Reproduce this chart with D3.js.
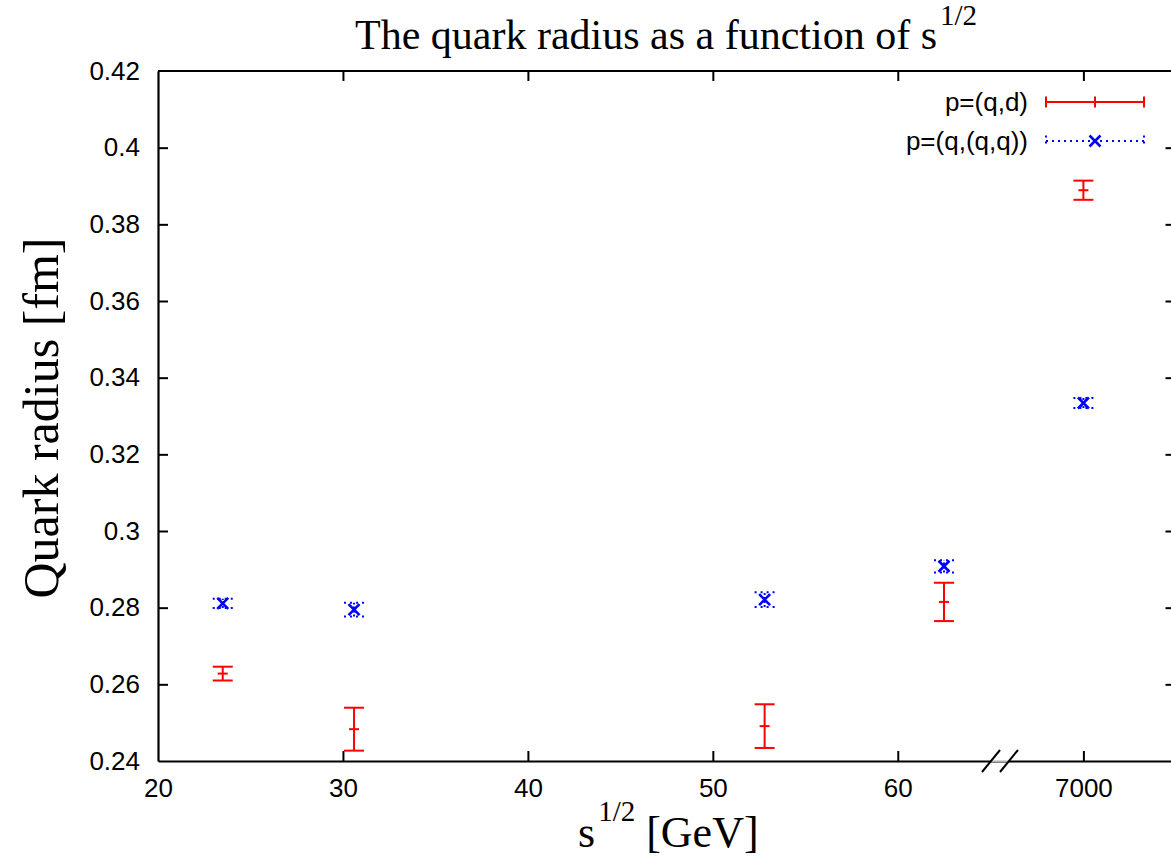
<!DOCTYPE html>
<html>
<head>
<meta charset="UTF-8">
<title>The quark radius as a function of s^1/2</title>
<script src="https://d3js.org/d3.v7.min.js"></script>
<style>
  body { margin: 0; background: #fff; }
  svg { display: block; }
  .tick text { font-family: "Liberation Sans", Arial, sans-serif; font-size: 26px; fill: #000; }
  .serif { font-family: "Liberation Serif", "Times New Roman", serif; fill: #000; }
</style>
</head>
<body>
<script>
// data
var energies  = [23.5, 30.6, 52.8, 62.5, 7000];
var radiusQD  = [0.2628, 0.2483, 0.2491, 0.2815, 0.3889];
var errQD     = [0.0018, 0.0056, 0.0057, 0.0050, 0.0025];
var radiusQQQ = [0.2811, 0.2795, 0.2821, 0.2908, 0.3334];
var errQQQ    = [0.0012, 0.0018, 0.0019, 0.0016, 0.0013];
var xTicks = [20, 30, 40, 50, 60, 7000];
var yTicks = [0.24, 0.26, 0.28, 0.30, 0.32, 0.34, 0.36, 0.38, 0.40, 0.42];
var seriesNames = ["p=(q,d)", "p=(q,(q,q))"];

var w = 1171, h = 865;
var plotLeft = 158, plotRight = 1175.5, plotTop = 71, plotBottom = 761;

var svg = d3.select("body").append("svg")
    .attr("width", w)
    .attr("height", h);

// broken x axis: 20..65.5 then a jump to 6995.5..7005
var x = d3.scaleLinear()
    .domain([20, 65.5, 6995.5, 7005])
    .range([plotLeft, 999.5, 1000.5, plotRight]);
var y = d3.scaleLinear()
    .domain([0.24, 0.42])
    .range([plotBottom, plotTop]);

// frame
svg.append("line").attr("x1", plotLeft).attr("x2", plotRight).attr("y1", plotTop).attr("y2", plotTop)
    .attr("stroke", "#000").attr("stroke-width", 2);
svg.append("line").attr("x1", plotRight).attr("x2", plotRight).attr("y1", plotTop).attr("y2", plotBottom)
    .attr("stroke", "#000").attr("stroke-width", 2);

var yAxis = svg.append("g")
    .attr("transform", "translate(" + plotLeft + ",0)")
    .call(d3.axisLeft(y).tickValues(yTicks).tickSizeInner(-10).tickSizeOuter(0).tickPadding(18)
        .tickFormat(function (d) { return String(+d.toFixed(2)); }));
var yMirror = svg.append("g")
    .attr("transform", "translate(" + plotRight + ",0)")
    .call(d3.axisRight(y).tickValues(yTicks).tickSizeInner(-10).tickSizeOuter(0).tickFormat(""));
var xAxis = svg.append("g")
    .attr("transform", "translate(0," + plotBottom + ")")
    .call(d3.axisBottom(x).tickValues(xTicks).tickSizeInner(-10).tickSizeOuter(0).tickPadding(18)
        .tickFormat(d3.format("d")));
var xMirror = svg.append("g")
    .attr("transform", "translate(0," + plotTop + ")")
    .call(d3.axisTop(x).tickValues(xTicks).tickSizeInner(-10).tickSizeOuter(0).tickFormat(""));

svg.selectAll(".domain").attr("stroke", "#000").attr("stroke-width", 2.2);
svg.selectAll(".tick line").attr("stroke", "#000").attr("stroke-width", 2);
yMirror.select(".domain").remove();
xMirror.select(".domain").remove();
// ticks at the plot corners are not drawn in the reference
yMirror.selectAll(".tick").filter(function (d) { return d === 0.24 || d === 0.42; }).remove();
yAxis.selectAll(".tick line").filter(function (d) { return d === 0.24 || d === 0.42; }).remove();
xAxis.selectAll(".tick line").filter(function (d) { return d === 20; }).remove();
xMirror.selectAll(".tick").filter(function (d) { return d === 20; }).remove();

// axis break marks
svg.append("line").attr("x1", 991).attr("x2", 1009).attr("y1", plotBottom).attr("y2", plotBottom)
    .attr("stroke", "#fff").attr("stroke-width", 1.4);
[991, 1009].forEach(function (cx) {
    svg.append("line")
        .attr("x1", cx - 9).attr("y1", plotBottom + 11)
        .attr("x2", cx + 9).attr("y2", plotBottom - 11)
        .attr("stroke", "#000").attr("stroke-width", 2);
});

var red = "#ff0000", blue = "#0000ff";
var capW = 10;

// p=(q,d) error bars
var qd = energies.map(function (e, i) { return { x: e, y: radiusQD[i], err: errQD[i] }; });
var gQD = svg.append("g").attr("stroke", red).attr("stroke-width", 2);
gQD.selectAll("line.bar").data(qd).enter().append("line").attr("class", "bar")
    .attr("x1", function (d) { return x(d.x); }).attr("x2", function (d) { return x(d.x); })
    .attr("y1", function (d) { return y(d.y - d.err); }).attr("y2", function (d) { return y(d.y + d.err); });
gQD.selectAll("line.capT").data(qd).enter().append("line").attr("class", "capT")
    .attr("x1", function (d) { return x(d.x) - capW; }).attr("x2", function (d) { return x(d.x) + capW; })
    .attr("y1", function (d) { return y(d.y + d.err); }).attr("y2", function (d) { return y(d.y + d.err); });
gQD.selectAll("line.capB").data(qd).enter().append("line").attr("class", "capB")
    .attr("x1", function (d) { return x(d.x) - capW; }).attr("x2", function (d) { return x(d.x) + capW; })
    .attr("y1", function (d) { return y(d.y - d.err); }).attr("y2", function (d) { return y(d.y - d.err); });
gQD.selectAll("line.pt").data(qd).enter().append("line").attr("class", "pt")
    .attr("x1", function (d) { return x(d.x) - 5; }).attr("x2", function (d) { return x(d.x) + 5; })
    .attr("y1", function (d) { return y(d.y); }).attr("y2", function (d) { return y(d.y); });

// p=(q,(q,q)) error bars, dotted
var qqq = energies.map(function (e, i) { return { x: e, y: radiusQQQ[i], err: errQQQ[i] }; });
var gQQQ = svg.append("g").attr("stroke", blue).attr("stroke-width", 2);
gQQQ.selectAll("line.bar").data(qqq).enter().append("line").attr("class", "bar")
    .attr("stroke-dasharray", "2,2")
    .attr("x1", function (d) { return x(d.x); }).attr("x2", function (d) { return x(d.x); })
    .attr("y1", function (d) { return y(d.y - d.err); }).attr("y2", function (d) { return y(d.y + d.err); });
gQQQ.selectAll("line.capT").data(qqq).enter().append("line").attr("class", "capT")
    .attr("stroke-dasharray", "2,4")
    .attr("x1", function (d) { return x(d.x) - capW; }).attr("x2", function (d) { return x(d.x) + capW; })
    .attr("y1", function (d) { return y(d.y + d.err); }).attr("y2", function (d) { return y(d.y + d.err); });
gQQQ.selectAll("line.capB").data(qqq).enter().append("line").attr("class", "capB")
    .attr("stroke-dasharray", "2,4")
    .attr("x1", function (d) { return x(d.x) - capW; }).attr("x2", function (d) { return x(d.x) + capW; })
    .attr("y1", function (d) { return y(d.y - d.err); }).attr("y2", function (d) { return y(d.y - d.err); });
gQQQ.selectAll("path.pt").data(qqq).enter().append("path").attr("class", "pt")
    .attr("stroke-width", 2.6)
    .attr("d", function (d) {
        var cx = x(d.x), cy = y(d.y), s = 5.5;
        return "M" + (cx - s) + "," + (cy - s) + "L" + (cx + s) + "," + (cy + s) +
               "M" + (cx - s) + "," + (cy + s) + "L" + (cx + s) + "," + (cy - s);
    });

// legend
var legend = svg.append("g");
var lx1 = 1046, lx2 = 1144, lmid = (lx1 + lx2) / 2;
legend.selectAll("text").data(seriesNames).enter().append("text")
    .attr("x", 1028).attr("y", function (d, i) { return 111 + i * 39; })
    .attr("text-anchor", "end")
    .style("font-family", "Liberation Sans, Arial, sans-serif").style("font-size", "26px")
    .text(function (d) { return d; });
var r1 = legend.append("g").attr("stroke", red).attr("stroke-width", 2);
r1.append("line").attr("x1", lx1).attr("x2", lx2).attr("y1", 102).attr("y2", 102);
[lx1, lmid, lx2].forEach(function (px) {
    r1.append("line").attr("x1", px).attr("x2", px).attr("y1", 96.5).attr("y2", 107.5);
});
var r2 = legend.append("g").attr("stroke", blue).attr("stroke-width", 2);
r2.append("line").attr("x1", lx1).attr("x2", lx2).attr("y1", 141).attr("y2", 141)
    .attr("stroke-dasharray", "2,4");
[lx1, lx2].forEach(function (px) {
    r2.append("line").attr("x1", px).attr("x2", px).attr("y1", 135.5).attr("y2", 146.5)
        .attr("stroke-dasharray", "2,4");
});
r2.append("path").attr("stroke-width", 2.6)
    .attr("d", "M" + (lmid - 5.5) + ",135.5L" + (lmid + 5.5) + ",146.5M" + (lmid - 5.5) + ",146.5L" + (lmid + 5.5) + ",135.5");

// title and axis labels
var title = svg.append("text").attr("class", "serif")
    .attr("x", 355).attr("y", 49).style("font-size", "42px");
title.append("tspan").text("The quark radius as a function of s");
title.append("tspan").attr("dx", 3).attr("dy", -24).style("font-size", "29px").text("1/2");

var xl = svg.append("text").attr("class", "serif")
    .attr("x", 578).attr("y", 847).style("font-size", "44px");
xl.append("tspan").text("s");
xl.append("tspan").attr("dx", 3).attr("dy", -26).style("font-size", "29px").text("1/2");
xl.append("tspan").attr("dy", 26).text(" [GeV]");

svg.append("text").attr("class", "serif")
    .attr("transform", "translate(58,418) rotate(-90)")
    .attr("text-anchor", "middle")
    .style("font-size", "50px")
    .text("Quark radius [fm]");
</script>
</body>
</html>
